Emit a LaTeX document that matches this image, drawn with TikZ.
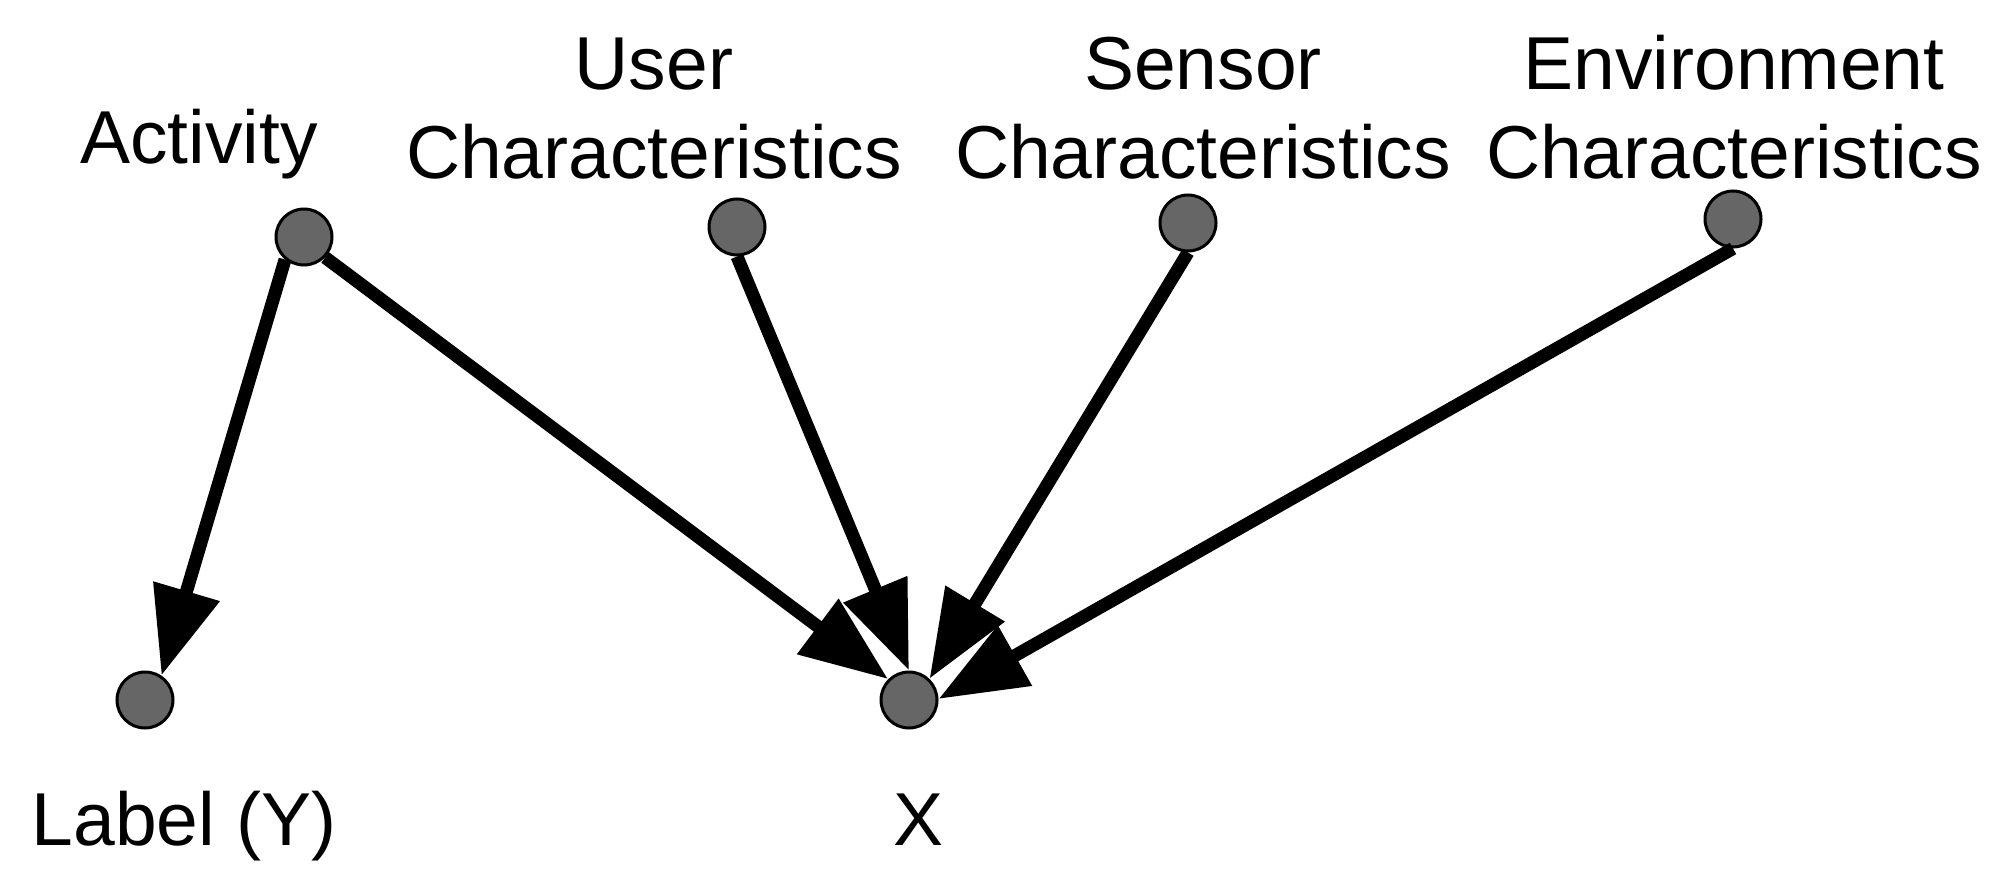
\documentclass[tikz,border=0pt]{standalone}
\usepackage{fontspec}
\setmainfont{Liberation Sans}
\usetikzlibrary{arrows.meta}
\begin{document}
\begin{tikzpicture}[x=1pt,y=-1pt,
  var/.style={circle,draw=black,fill=nodegray,line width=3pt,minimum size=56pt,inner sep=0pt},
  lbl/.style={inner sep=0pt,align=center,font=\fontsize{75}{89}\selectfont},
  conn/.style={line width=13pt,-{Triangle[length=88pt,width=66pt]}}]
\definecolor{nodegray}{HTML}{666666}
\useasboundingbox[fill=white] (0,0) rectangle (2010,888);
% variables
\node[var] (act) at (304,237) {};
\node[var] (usr) at (737,227) {};
\node[var] (sen) at (1188,223) {};
\node[var] (env) at (1733,219) {};
\node[var] (lab) at (145,700) {};
\node[var] (x)   at (909,700) {};
% texts
\node[lbl,anchor=base] (tact) at (199,163) {Activity};
\node[lbl,anchor=south] (tusr) at (654,179) {User\\Characteristics};
\node[lbl,anchor=south] (tsen) at (1203,179) {Sensor\\Characteristics};
\node[lbl,anchor=south] (tenv) at (1734,179) {Environment\\Characteristics};
\node[lbl,anchor=base] (tlab) at (184,845) {Label (Y)};
\node[lbl,anchor=base] (tx) at (919,845) {X};
% connectors
\draw[conn] (act.230) -- (lab.56);
\draw[conn] (act.-44) -- (x.135);
\draw[conn] (usr.south) -- (x.north);
\draw[conn] (sen.south) -- (x.46);
\draw[conn] (env.south) -- (x.2);
\end{tikzpicture}
\end{document}
